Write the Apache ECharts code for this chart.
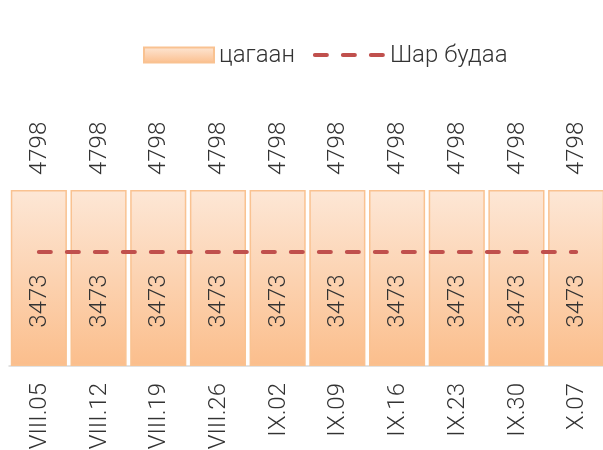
<!DOCTYPE html>
<html>
<head>
<meta charset="utf-8">
<script src="https://cdn.jsdelivr.net/npm/echarts@6/dist/echarts.min.js"></script>
<style>
  html, body { margin: 0; padding: 0; background: #fff; }
  #main { width: 603px; height: 450px; }
</style>
</head>
<body>
<div id="main"></div>
<script>
const categories = ['VIII.05', 'VIII.12', 'VIII.19', 'VIII.26', 'IX.02', 'IX.09', 'IX.16', 'IX.23', 'IX.30', 'X.07']
const tsagaan = [4798, 4798, 4798, 4798, 4798, 4798, 4798, 4798, 4798, 4798]
const sharBudaa = [3473, 3473, 3473, 3473, 3473, 3473, 3473, 3473, 3473, 3473]

const chart = echarts.init(document.getElementById('main'))

const font = '"Roboto Light", Roboto'
const txt = '#333333'
const dash = { color: '#C0504D', width: 4, type: [12, 16], cap: 'round' }

chart.setOption({
  backgroundColor: '#fff',
  textStyle: { fontFamily: font },
  animation: false,
  legend: {
    left: 138,
    top: 38,
    itemWidth: 70,
    itemHeight: 15,
    itemGap: 18,
    textStyle: { fontSize: 24, color: txt, fontWeight: 300, fontFamily: font },
    data: [
      { name: 'цагаан', icon: 'rect' },
      { name: 'Шар будаа', itemStyle: { opacity: 0 }, lineStyle: dash }
    ]
  },
  grid: { left: 9, right: -3, top: 190, bottom: 84, outerBoundsMode: 'none' },
  xAxis: {
    type: 'category',
    data: categories,
    axisLine: { lineStyle: { color: '#d9d9d9', width: 1.5 } },
    axisTick: { length: 6, lineStyle: { color: '#d9d9d9', width: 1.5 } },
    axisLabel: { rotate: 90, margin: 17, fontSize: 24, color: txt, fontWeight: 300, fontFamily: font }
  },
  yAxis: [
    { type: 'value', min: 0, max: 4798, show: false },
    { type: 'value', min: 0, max: 5362, show: false }
  ],
  series: [
    {
      name: 'цагаан',
      type: 'bar',
      barCategoryGap: '6%',
      data: tsagaan,
      itemStyle: {
        color: new echarts.graphic.LinearGradient(0, 0, 0, 1, [
          { offset: 0, color: '#FDE7D6' },
          { offset: 1, color: '#FBBE8C' }
        ]),
        borderColor: '#F9C291',
        borderWidth: 1.5
      },
      label: {
        show: true,
        position: 'top',
        rotate: 90,
        align: 'left',
        verticalAlign: 'middle',
        distance: 15,
        fontSize: 24,
        color: txt,
        fontWeight: 300,
        fontFamily: font
      }
    },
    {
      name: 'Шар будаа',
      type: 'line',
      yAxisIndex: 1,
      data: sharBudaa,
      symbol: 'circle',
      symbolSize: 1,
      showSymbol: true,
      lineStyle: dash,
      itemStyle: { color: 'rgba(0,0,0,0)' },
      label: {
        show: true,
        position: 'inside',
        rotate: 90,
        offset: [-49, 0],
        align: 'center',
        verticalAlign: 'middle',
        fontSize: 24,
        color: txt,
        fontWeight: 300,
        fontFamily: font
      }
    }
  ]
})
</script>
</body>
</html>
